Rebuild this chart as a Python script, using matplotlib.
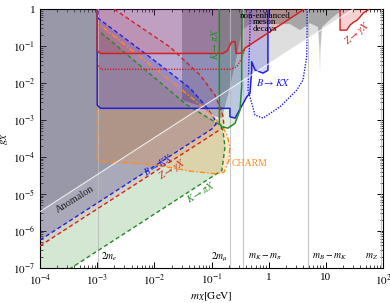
import numpy as np
import matplotlib.pyplot as plt

plt.rcParams['font.family'] = 'serif'
plt.rcParams['font.serif'] = ['Liberation Serif', 'DejaVu Serif']
plt.rcParams['mathtext.fontset'] = 'stix'

# mass thresholds [GeV]
thr_m = [1.022e-3, 0.2113, 0.3584, 4.786, 91.19]
thr_lab = [r'$2m_e$', r'$2m_\mu$', r'$m_K-m_\pi$', r'$m_B-m_K$', r'$m_Z$']

# anomalon line
anom_m = [1e-4, 100.]
anom_g = [3.3e-6, 3.3]

# enhanced (dashed) bounds: lower edge -> tip -> upper edge
bkx_m = [1e-4, 0.1, 0.12, 0.111, 0.077, 0.042, 8.4e-3, 1.03e-3, 1.03e-3]
bkx_g = [5.6e-7, 5.6e-4, 7.7e-4, 1.12e-3, 2.5e-3, 7.3e-3, 0.05, 0.57, 1.0]
zgx_m = [1e-4, 0.165, 0.16, 0.152, 0.115, 0.063, 0.0188, 1.9e-3]
zgx_g = [3.9e-7, 6.4e-4, 1.2e-3, 1.63e-3, 4.7e-3, 0.0164, 0.094, 1.04]
kpx_m = [1e-4, 0.152, 0.172, 0.158, 0.141, 0.0372, 1.12e-3]
kpx_g = [2.8e-8, 4.3e-5, 1.85e-4, 5.3e-4, 7.3e-4, 2.53e-3, 0.243]

# CHARM
charm_m = [1.0e-3, 1.0e-3, 2.83e-3, 0.0111, 0.042, 0.115, 0.165, 0.202, 0.21,
           0.187, 0.152, 0.141, 0.0834, 0.0249, 1.12e-3, 1.0e-3]
charm_g = [1.0, 7.5e-5, 7.0e-5, 6.0e-5, 4.1e-5, 3.5e-5, 3.8e-5, 8.2e-5, 1.85e-4,
           3.9e-4, 7.0e-4, 7.7e-4, 1.85e-3, 8.3e-3, 0.37, 0.37]

# non-enhanced bounds (solid)
bs_m = [1.0e-3, 1.0e-3, 1.15e-3, 0.21, 0.21, 0.258, 0.413, 0.471, 0.505, 0.505,
        0.577, 0.796, 0.97, 0.97]
bs_g = [1.0, 2.5e-3, 2.06e-3, 2.06e-3, 1.22e-3, 1.12e-3, 4.2e-3, 5.3e-3, 0.0224,
        0.0375, 0.0224, 0.0185, 0.022, 1.0]
rs_m = [1.0e-3, 1.0e-3, 1.15e-3, 0.158, 0.19, 0.215, 0.225, 0.258, 0.27, 0.337,
        0.385, 4.2]
rs_g = [1.0, 0.075, 0.063, 0.063, 0.075, 0.115, 0.13, 0.13, 0.063, 0.064,
        0.088, 1.0]
rd_m = [1.0e-3, 1.15e-3, 0.21, 0.276, 0.337, 0.385]
rd_g = [0.035, 0.0234, 0.0234, 0.0275, 0.046, 0.088]
gu_m = [0.137, 0.137, 0.151, 0.194, 0.258, 0.315, 0.337, 0.34]
gu_g = [1.0, 8.1e-4, 6.5e-4, 6.0e-4, 8.1e-4, 1.85e-3, 7.9e-3, 1.0]
bd_m = [0.471, 0.471, 0.435, 0.577, 0.796, 1.58, 3.09, 3.98, 4.62, 4.7, 4.7]
bd_g = [1.0, 0.27, 6.4e-3, 1.36e-3, 1.12e-3, 2.27e-3, 6.4e-3, 0.012, 0.051, 0.27, 1.0]

# non-enhanced meson decays (gray)
ne_m = [0.0305, 0.0305, 0.063, 0.111, 0.152, 0.194, 0.268, 0.341, 0.471, 2.36,
        3.53, 5.28, 7.3, 7.74, 7.9, 8.05, 8.57, 12.6, 17.7, 20.]
ne_g = [1.0, 3.45e-3, 2.4e-3, 1.27e-3, 1.12e-3, 4.7e-3, 0.042, 0.27, 0.393, 0.393,
        0.27, 0.418, 0.326, 0.078, 0.0185, 0.078, 0.326, 0.57, 0.845, 1.0]

# Z -> gamma X at high mass
zt_m = [17.7, 17.7, 23.2, 26.5, 30.3, 35.1, 39.6, 44.8, 54.6, 56.9]
zt_g = [1.0, 0.27, 0.27, 0.37, 0.44, 0.50, 0.61, 0.78, 0.94, 1.0]

blue = '#2020e0'
red = '#d42020'
green = '#238b23'
orange = '#ff8c1a'

fig = plt.figure(figsize=(3.9, 3.03), dpi=100)
ax = fig.add_axes([0.1026, 0.1165, 0.8795, 0.8535])
ax.set_xscale('log')
ax.set_yscale('log')
ax.set_xlim(1e-4, 100)
ax.set_ylim(1e-7, 1)

# anomalon
ax.fill(anom_m + [1e-4], anom_g + [3.3], color='k', alpha=0.13, lw=0, zorder=1)
ax.plot(anom_m, anom_g, color='white', lw=0.8, alpha=0.8, zorder=9)


# enhanced regions
def closed(m, g, m0):
    return m + [m0, 1e-4], g + [1.0, 1.0]


m, g = closed(kpx_m, kpx_g, 1.12e-3)
ax.fill(m, g, color=green, alpha=0.2, lw=0, zorder=2)
m, g = closed(zgx_m, zgx_g, 1.9e-3)
ax.fill(m, g, color=red, alpha=0.1, lw=0, zorder=2)
m, g = closed(bkx_m, bkx_g, 1.03e-3)
ax.fill(m, g, color='#4040a8', alpha=0.28, lw=0, zorder=2)
ax.fill(charm_m, charm_g, color=orange, alpha=0.22, lw=0, zorder=2)

ax.plot(kpx_m, kpx_g, color=green, lw=1, ls=(0, (3, 2)), zorder=5)
ax.plot(zgx_m, zgx_g, color=red, lw=1, ls=(0, (3, 2)), zorder=5)
ax.plot(bkx_m, bkx_g, color=blue, lw=1, ls=(0, (3, 2)), zorder=5)
ax.plot(charm_m + [charm_m[0]], charm_g + [charm_g[0]], color=orange, lw=1,
        ls=(0, (4, 1.5, 1, 1.5)), zorder=5)

# non-enhanced regions
ax.fill(ne_m, ne_g, color='k', alpha=0.25, lw=0, zorder=3)
ax.fill(bs_m, bs_g, color='#3030ff', alpha=0.2, lw=0, zorder=3)
ax.plot(bs_m, bs_g, color=blue, lw=1.1, zorder=6)
ax.fill(rs_m, rs_g, color=red, alpha=0.17, lw=0, zorder=3)
ax.plot(rs_m, rs_g, color=red, lw=1.1, zorder=6)
ax.plot(rd_m, rd_g, color=red, lw=1, ls=(0, (1, 1)), zorder=6)
ax.fill(gu_m, gu_g, color=green, alpha=0.15, lw=0, zorder=3)
ax.plot(gu_m, gu_g, color=green, lw=1.1, zorder=6)
ax.plot(bd_m, bd_g, color=blue, lw=1, ls=(0, (1, 1)), zorder=6)
ax.fill(zt_m, zt_g, color=red, alpha=0.2, lw=0, zorder=3)
ax.plot(zt_m, zt_g, color=red, lw=1, zorder=6)

# thresholds
for mt in thr_m:
    ax.axvline(mt, color='#bbbbbb', lw=0.8, alpha=0.8, zorder=4)

fs = 7
ax.text(1.17e-3, 1.95e-7, thr_lab[0], fontsize=fs, ha='left', va='center')
ax.text(0.194, 1.95e-7, thr_lab[1], fontsize=fs, ha='right', va='center')
ax.text(0.44, 1.95e-7, thr_lab[2], fontsize=fs, ha='left', va='center')
ax.text(5.7, 1.95e-7, thr_lab[3], fontsize=fs, ha='left', va='center')
ax.text(82, 1.95e-7, thr_lab[4], fontsize=fs, ha='right', va='center')

ax.text(4.1e-4, 7.2e-6, 'Anomalon', fontsize=7.5, rotation=32, color='#222222',
        ha='center', va='center', zorder=10)
ax.text(0.0116, 6.0e-5, r'$B\to KX$', fontsize=fs, rotation=32, color=blue,
        ha='center', va='center', zorder=10)
ax.text(0.0204, 4.4e-5, r'$Z\to\gamma X$', fontsize=fs, rotation=32, color=red,
        ha='center', va='center', zorder=10)
ax.text(0.063, 1.1e-5, r'$K\to\pi X$', fontsize=fs, rotation=32, color=green,
        ha='center', va='center', zorder=10)
ax.text(0.228, 6.8e-5, 'CHARM', fontsize=fs, color=orange, ha='left',
        va='center', zorder=10)
ax.text(1.19, 0.01, r'$B\to KX$', fontsize=7.5, color=blue, ha='center',
        va='center', zorder=10)
ax.text(0.115, 0.113, r'$K\to\pi X$', fontsize=fs, rotation=90, color=green,
        ha='center', va='center', zorder=10)
ax.text(35, 0.224, r'$Z\to\gamma X$', fontsize=fs, rotation=40, color=red,
        ha='center', va='center', zorder=10)
ax.text(0.86, 0.445, 'non-enhanced\nmeson\ndecays', fontsize=6.5,
        ha='center', va='center', linespacing=0.75, zorder=10)

ax.set_xticks([1e-4, 1e-3, 1e-2, 1e-1, 1, 10, 100])
ax.set_xticklabels([r'$10^{-4}$', r'$10^{-3}$', r'$10^{-2}$', r'$10^{-1}$',
                    '1', '10', r'$10^{2}$'])
ax.set_yticks([1e-7, 1e-6, 1e-5, 1e-4, 1e-3, 1e-2, 1e-1, 1])
ax.set_yticklabels([r'$10^{-7}$', r'$10^{-6}$', r'$10^{-5}$', r'$10^{-4}$',
                    r'$10^{-3}$', r'$10^{-2}$', r'$10^{-1}$', '1'])
ax.tick_params(which='both', direction='in', top=True, right=True,
               labelsize=8)
ax.tick_params(which='major', length=4, width=0.7)
ax.tick_params(which='minor', length=2, width=0.5)
ax.set_xlabel(r'$m_X[\mathrm{GeV}]$', fontsize=8, labelpad=2)
ax.set_ylabel(r'$g_X$', fontsize=8, labelpad=2)

fig.savefig('out.png', dpi=100)
